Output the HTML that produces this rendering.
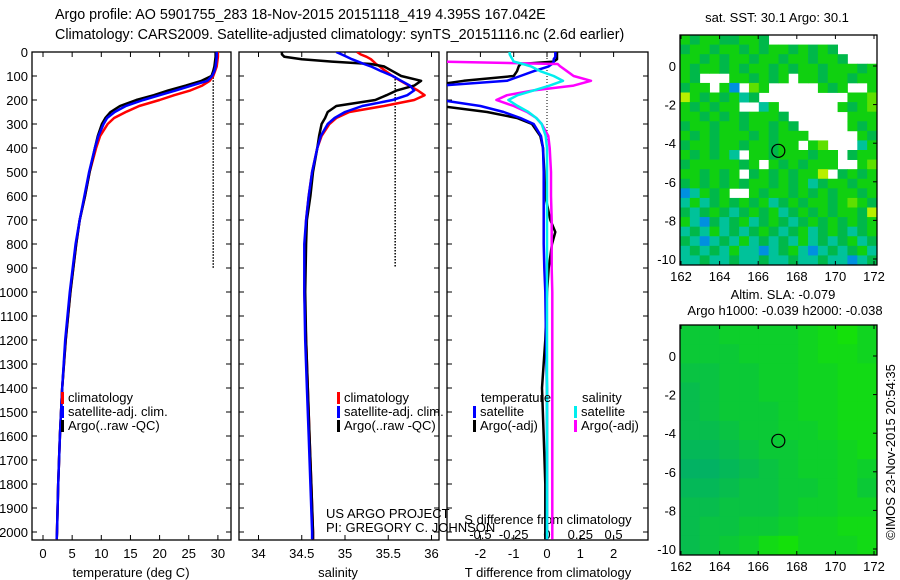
<!DOCTYPE html>
<html><head><meta charset="utf-8"><style>
html,body{margin:0;padding:0;background:#fff}
svg{display:block;font-family:"Liberation Sans",sans-serif}
</style></head><body>
<svg id="c" width="900" height="580" viewBox="0 0 900 580">
<defs>
<clipPath id="cp1"><rect x="32" y="52" width="199" height="488"/></clipPath>
<clipPath id="cp2"><rect x="239" y="52" width="200" height="488"/></clipPath>
<clipPath id="cp3"><rect x="447" y="52" width="201" height="488"/></clipPath>
</defs>
<g font-size="14.3" fill="#000">
<text x="55" y="19">Argo profile: AO 5901755_283 18-Nov-2015 20151118_419 4.395S 167.042E</text>
<text x="55" y="39">Climatology: CARS2009. Satellite-adjusted climatology: synTS_20151116.nc (2.6d earlier)</text>
</g>
</svg>
<script>
// ---- data ----
const depthT=[0,20,40,60,80,100,120,140,160,180,200,225,250,275,300,350,400,500,600,700,800,900,1000,1200,1400,1600,1800,2000,2030];
const argoT=[29.6,29.6,29.5,29.4,29.2,28.9,27.2,24.5,21.5,19,16,13.2,11.6,10.7,10.1,9.4,8.9,8.0,7.2,6.3,5.7,5.2,4.7,3.9,3.3,2.9,2.6,2.4,2.35];
const satT=[29.8,29.8,29.7,29.6,29.4,29.0,28.2,25.5,22.8,20,17.2,14.2,12.3,11.0,10.4,9.5,8.9,7.9,7.1,6.3,5.6,5.1,4.6,3.8,3.3,2.9,2.6,2.4,2.35];
const climT=[30.0,30.0,29.9,29.8,29.5,29.2,28.6,27.3,25.3,22.5,20,16.5,14.2,12.2,11.1,9.8,9.1,8.0,7.2,6.3,5.7,5.2,4.7,3.9,3.3,2.9,2.6,2.4,2.35];
const depthS=[0,10,20,30,40,50,60,80,100,120,140,160,180,200,225,250,275,300,350,400,500,600,700,800,1000,1200,1400,1600,1800,2000,2030];
const argoS=[34.27,34.27,34.3,34.5,34.85,35.3,35.45,35.55,35.65,35.88,35.8,35.6,35.48,35.35,34.9,34.8,34.77,34.73,34.7,34.68,34.63,34.6,34.56,34.55,34.54,34.55,34.57,34.59,34.61,34.63,34.63];
const satS=[34.9,34.96,35.02,35.08,35.15,35.22,35.3,35.42,35.55,35.65,35.75,35.8,35.72,35.55,35.2,35.0,34.88,34.8,34.72,34.68,34.62,34.58,34.55,34.53,34.53,34.54,34.56,34.58,34.6,34.62,34.62];
const climS=[35.14,35.18,35.25,35.3,35.33,35.36,35.4,35.47,35.55,35.64,35.74,35.84,35.92,35.8,35.45,35.05,34.9,34.82,34.73,34.68,34.62,34.58,34.55,34.54,34.53,34.55,34.57,34.59,34.61,34.63,34.63];
const depthD=[0,10,20,30,40,50,60,80,100,120,140,160,180,200,225,250,275,300,350,400,500,600,700,750,800,900,1000,1200,1400,1600,1800,2000,2030];
const argoTd=[0.3,0.3,0.3,0.3,0.2,-0.8,-0.85,-0.9,-1.0,-2.5,-3.5,-4,-4,-4,-3.2,-1.8,-0.9,-0.45,-0.2,-0.12,-0.08,-0.05,0.1,0.25,0.15,0.05,0,-0.05,-0.15,-0.1,-0.05,-0.05,-0.05];
const satTd=[0.25,0.25,0.25,0.2,0.2,0.15,0.05,-0.4,-0.8,-1.2,-3.2,-4,-4,-3.2,-2.0,-1.3,-0.8,-0.4,-0.18,-0.12,-0.1,-0.1,-0.1,-0.1,-0.1,-0.08,-0.05,-0.03,0,0,0,0,0];
const argoSd=[-0.8,-0.8,-0.8,-0.8,-0.8,0.08,0.1,0.15,0.2,0.33,0.2,-0.1,-0.3,-0.38,-0.25,-0.15,-0.08,-0.04,0.01,0.02,0.03,0.03,0.035,0.035,0.035,0.035,0.04,0.04,0.04,0.04,0.04,0.04,0.04];
const satSd=[-0.28,-0.28,-0.27,-0.26,-0.25,-0.18,-0.12,-0.05,0.05,0.12,0.02,-0.1,-0.22,-0.29,-0.22,-0.14,-0.08,-0.04,-0.01,0,0,0,0,0,0,0,0,0,0,0,0,0,0];
const depthTicks=[0,100,200,300,400,500,600,700,800,900,1000,1100,1200,1300,1400,1500,1600,1700,1800,1900,2000];
const tTicks=[0,5,10,15,20,25,30];
const sTicks=[34,34.5,35,35.5,36];
const sTickLabels=["34","34.5","35","35.5","36"];
const tdTicks=[-2,-1,0,1,2];
const sdTicks=[-0.5,-0.25,0,0.25,0.5];
const lonTicks=[162,164,166,168,170,172];
const latTicks=[0,-2,-4,-6,-8,-10];
const floatLon=167.042, floatLat=-4.395;
const sstRows=[
"GDGGDDGGD...........",
"DGGDGGDGDGGDGDGD....",
"GGDGDGGDGGDGGDGGD...",
"GDGGDGDGGDGDGGDGGGDG",
"GD...GGDGDG.GGDGGDGG",
"DGG.GB.LG.....GDG..G",
"YGDGDGTD.........GGL",
"GDGDGG..TG......GDGL",
"GGDGDGDGGGD......GGG",
"DGGDGGDGGDGD.....GDG",
"GDGDGGGDGDGGG.....GD",
"DGGDGGDGGDGG.GL...TG",
"GDGDGT.GGDGGGDGG.DGG",
"DGGGGGDG.GDGDGGG..GL",
"GGDGDG.DGDGDGGY.DGDG",
"DGDGDGDGGDGDGTDGGDGG",
"BTGDG..GDGGDGDGDGGDG",
"TGTDGDGDGTDGDGGDGLGD",
"DTDGDTDGDGTDGDGDGGDY",
"GTBDTDGTDGDTDGDGDGDG",
"TDTGTDTDGDTDGTDGDTDG",
"DTBTDTGTDTDTGTDTDGTD",
"TDTDTGTTBTDGTBTDTDGT",
"TTDTTDTTDTTDTTDTTBTD"];
const slaRows=[
"5566667897",
"5556667887",
"4455667788",
"3455667788",
"3455567788",
"3345566788",
"2234556678",
"1123456676",
"2234455675",
"3344456677",
"3445567788",
"3456897778"];
// ---- drawing ----
const NS='http://www.w3.org/2000/svg';
const svg=document.getElementById('c');
function mk(tag,attrs,parent){const e=document.createElementNS(NS,tag);for(const k in attrs)e.setAttribute(k,attrs[k]);(parent||svg).appendChild(e);return e;}
function txt(s,x,y,anchor,size,parent){const t=mk('text',{x:x,y:y,'text-anchor':anchor||'start','font-size':size||13},parent);t.textContent=s;return t;}
const yD=d=>52+d*0.24;
const xT=v=>43+v*5.83;
const xS=v=>258.5+(v-34)*86.5;
const xTd=v=>547+v*33.3;
const xSd=v=>547+v*133.2;
function line(xs,ys,xf,color,w,clip,name){
  const pts=xs.map((v,i)=>xf(v).toFixed(1)+','+yD(ys[i]).toFixed(1)).join(' ');
  const p=mk('polyline',{points:pts,fill:'none',stroke:color,'stroke-width':w,'clip-path':'url(#'+clip+')','stroke-linejoin':'round'});
  
  
}
function box(x,y,w,h,name){const r=mk('rect',{x:x,y:y,width:w,height:h,fill:'none',stroke:'#000','stroke-width':1.3});
  
  }
const panels=[[32,231,'cp1','temperature-panel'],[239,439,'cp2','salinity-panel'],[447,648,'cp3','difference-panel']];
panels.forEach(p=>{
  box(p[0],52,p[1]-p[0],488,p[3]);
  depthTicks.forEach(d=>{mk('line',{x1:p[0],x2:p[0]+5,y1:yD(d),y2:yD(d),stroke:'#000'});mk('line',{x1:p[1]-5,x2:p[1],y1:yD(d),y2:yD(d),stroke:'#000'});});
});
const yl=mk('g',{});


depthTicks.forEach(d=>txt(String(d),28,yD(d)+5,'end',13,yl));
tTicks.forEach(v=>{const x=xT(v);mk('line',{x1:x,x2:x,y1:540,y2:535,stroke:'#000'});mk('line',{x1:x,x2:x,y1:52,y2:57,stroke:'#000'});txt(String(v),x,558,'middle',13);});
sTicks.forEach((v,i)=>{const x=xS(v);mk('line',{x1:x,x2:x,y1:540,y2:535,stroke:'#000'});mk('line',{x1:x,x2:x,y1:52,y2:57,stroke:'#000'});txt(sTickLabels[i],x,558,'middle',13);});
tdTicks.forEach(v=>{const x=xTd(v);mk('line',{x1:x,x2:x,y1:540,y2:535,stroke:'#000'});mk('line',{x1:x,x2:x,y1:52,y2:57,stroke:'#000'});txt(String(v),x,558,'middle',13);});
sdTicks.forEach(v=>txt(String(v),xSd(v),539,'middle',13));
let t;
t=txt('temperature (deg C)',131,577,'middle',13);
t=txt('salinity',338,577,'middle',13);
t=txt('T difference from climatology',548,577,'middle',13);
t=txt('S difference from climatology',548,524,'middle',13);
txt('US ARGO PROJECT',326,518,'start',13);
txt('PI: GREGORY C. JOHNSON',326,532,'start',13);
mk('line',{x1:xT(29.2),x2:xT(29.2),y1:yD(80),y2:yD(900),stroke:'#000','stroke-width':1.5,'stroke-dasharray':'1.5,1.5'});
mk('line',{x1:xS(35.58),x2:xS(35.58),y1:yD(100),y2:yD(900),stroke:'#000','stroke-width':1.5,'stroke-dasharray':'1.5,1.5'});
mk('line',{x1:xTd(0),x2:xTd(0),y1:52,y2:yD(1000),stroke:'#000','stroke-width':1,'stroke-dasharray':'1,2'});
line(climT,depthT,xT,'#f00',2.5,'cp1','temp-climatology-line');
line(argoT,depthT,xT,'#000',2.5,'cp1','temp-argo-line');
line(satT,depthT,xT,'#00f',2.5,'cp1','temp-satellite-line');
line(climS,depthS,xS,'#f00',2.5,'cp2','sal-climatology-line');
line(argoS,depthS,xS,'#000',2.5,'cp2','sal-argo-line');
line(satS,depthS,xS,'#00f',2.5,'cp2','sal-satellite-line');
line(argoTd,depthD,xTd,'#000',2.5,'cp3','t-diff-argo-line');
line(satTd,depthD,xTd,'#00f',2.5,'cp3','t-diff-satellite-line');
line(argoSd,depthD,xSd,'#f0f',2.5,'cp3','s-diff-argo-line');
line(satSd,depthD,xSd,'#0ee',2.5,'cp3','s-diff-satellite-line');
function leg(x,y,color,label,name){const g=mk('g',{});
  
  
  if(color)mk('rect',{x:x,y:y-10,width:3,height:12,fill:color},g);
  txt(label,x+7,y,'start',13,g);}
leg(61,402,'#f00','climatology','legend-climatology');
leg(61,416,'#00f','satellite-adj. clim.','legend-satellite-adj');
leg(61,430,'#000','Argo(..raw -QC)','legend-argo');
leg(337,402,'#f00','climatology','legend-climatology-2');
leg(337,416,'#00f','satellite-adj. clim.','legend-satellite-adj-2');
leg(337,430,'#000','Argo(..raw -QC)','legend-argo-2');
txt('temperature',481,402,'start',13);
leg(473,416,'#00f','satellite','legend-t-satellite');
leg(473,430,'#000','Argo(-adj)','legend-t-argo');
txt('salinity',582,402,'start',13);
leg(574,416,'#0ee','satellite','legend-s-satellite');
leg(574,430,'#f0f','Argo(-adj)','legend-s-argo');
const sstCol={G:'#10d010',D:'#00b84a',T:'#00c29a',L:'#5ee000',Y:'#b8f000',B:'#0090e0'};
function mapFrame(top,lat0,name,rows,cellFn,ncol,cw,ch){
  const g=mk('g',{});
  
  
  rows.forEach((r,i)=>{for(let j=0;j<ncol;j++){const c=cellFn(r[j]);if(!c)continue;
    mk('rect',{x:(680+j*cw).toFixed(2),y:(top+i*ch).toFixed(2),width:(cw+0.4).toFixed(2),height:(ch+0.4).toFixed(2),fill:c},g);}});
  const yL=lat=>lat0-lat*19.3, xL=lon=>681+(lon-162)*19.3;
  box(680,top,197,230,name+'-frame');
  latTicks.forEach(l=>{mk('line',{x1:877,x2:873,y1:yL(l),y2:yL(l),stroke:'#000'});txt(String(l),676,yL(l)+5,'end',13);});
  lonTicks.forEach(l=>{mk('line',{x1:xL(l),x2:xL(l),y1:top,y2:top+4,stroke:'#000'});mk('line',{x1:xL(l),x2:xL(l),y1:top+230,y2:top+226,stroke:'#000'});txt(String(l),xL(l),top+246,'middle',13);});
  const c=mk('circle',{cx:xL(floatLon),cy:yL(floatLat),r:6.5,fill:'none',stroke:'#000','stroke-width':1.2});
  
  
}
mapFrame(35,66,'sst-map',sstRows,ch=>ch==='.'?null:sstCol[ch],20,9.85,230/24);
function slaColor(ch){const v=+ch/9;const r=Math.round(0+20*v),g=Math.round(172+52*v),b=Math.round(110-100*v);return 'rgb('+r+','+g+','+b+')';}
mapFrame(325,356,'sla-map',slaRows,slaColor,10,19.7,230/12);
txt('sat. SST: 30.1  Argo: 30.1',777,22,'middle',13);
txt('Altim. SLA: -0.079',783,299,'middle',13);
txt('Argo h1000: -0.039 h2000: -0.038',785,315,'middle',13);
const ts=txt('\u00A9IMOS 23-Nov-2015 20:54:35',0,0,'middle',13);
ts.setAttribute('transform','translate(895,452) rotate(-90)');


</script>
</body></html>
